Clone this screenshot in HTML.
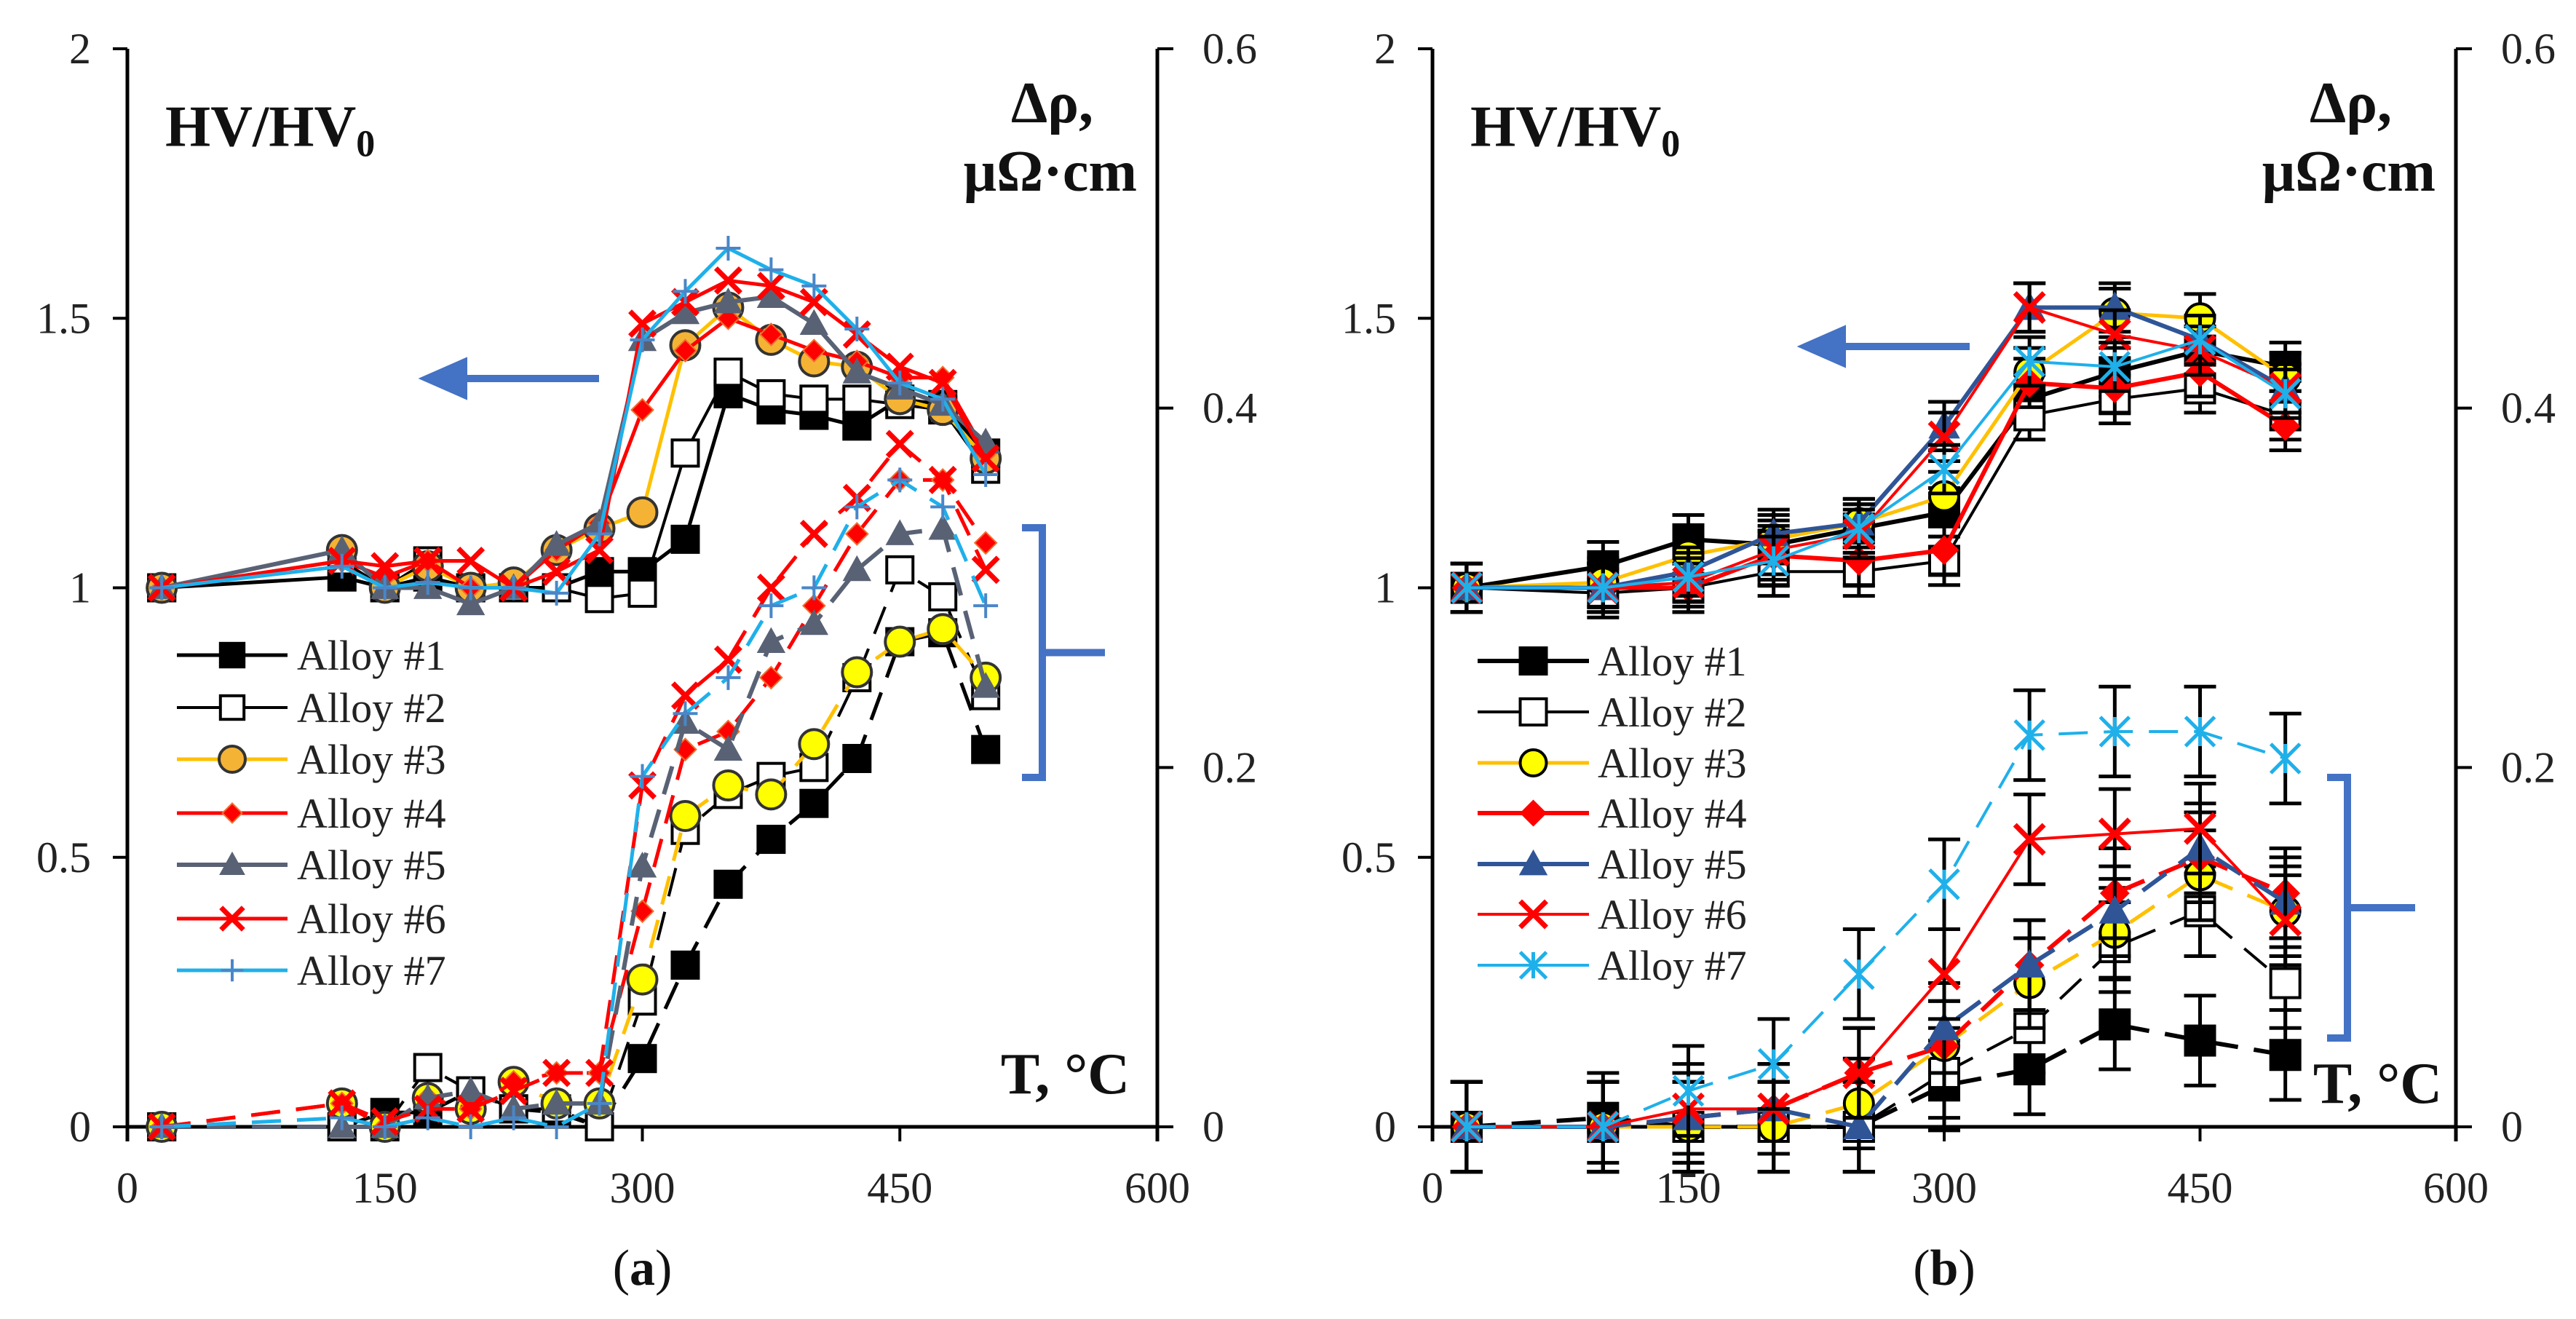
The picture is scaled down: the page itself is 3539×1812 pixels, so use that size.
<!DOCTYPE html>
<html><head><meta charset="utf-8"><style>
html,body{margin:0;padding:0;background:#fff;}
svg{display:block;font-family:"Liberation Serif",serif;}
</style></head><body>
<svg id="chart" width="3539" height="1812" viewBox="0 0 3539 1812" xmlns="http://www.w3.org/2000/svg">
<rect width="3539" height="1812" fill="#fff"/>
<g id="panelA"></g>
<g id="panelB"></g>
</svg>
<script>
// ---- data panel a ----
const xA = [20,125,150,175,200,225,250,275,300,325,350,375,400,425,450,475,500];
const hvA1 = [1.0,1.02,1.0,1.02,1.0,1.0,1.0,1.03,1.03,1.09,1.36,1.33,1.32,1.30,1.35,1.34,1.25];
const hvA2 = [1.0,1.05,1.0,1.05,1.0,1.0,1.0,0.98,0.99,1.25,1.40,1.36,1.35,1.35,1.34,1.33,1.22];
const hvA3 = [1.0,1.07,1.0,1.04,1.0,1.01,1.07,1.11,1.14,1.45,1.52,1.46,1.42,1.41,1.35,1.33,1.24];
const hvA4 = [1.0,1.05,1.02,1.05,1.0,1.0,1.07,1.12,1.33,1.44,1.50,1.47,1.44,1.42,1.39,1.39,1.25];
const hvA5 = [1.0,1.07,1.0,1.0,0.97,1.0,1.08,1.12,1.46,1.51,1.53,1.54,1.49,1.40,1.37,1.34,1.27];
const hvA6 = [1.0,1.05,1.04,1.05,1.05,1.0,1.03,1.07,1.49,1.53,1.57,1.56,1.53,1.47,1.41,1.38,1.24];
const hvA7 = [1.0,1.04,1.0,1.01,1.0,1.0,0.99,1.10,1.46,1.55,1.63,1.59,1.56,1.48,1.38,1.35,1.21];
const rA1 = [0,0,0.008,0.008,0.02,0.01,0.008,0,0.038,0.09,0.135,0.16,0.18,0.205,0.27,0.275,0.21];
const rA2 = [0,0,0,0.033,0.02,0.01,0.01,0,0.07,0.165,0.185,0.195,0.20,0.25,0.31,0.295,0.24];
const rA3 = [0,0.013,0,0.016,0.01,0.025,0.013,0.013,0.082,0.173,0.19,0.185,0.213,0.253,0.27,0.277,0.25];
const rA4 = [0,0.013,0,0.016,0.01,0.025,0.03,0.03,0.12,0.21,0.22,0.25,0.29,0.33,0.36,0.36,0.325];
const rA5 = [0,0,0,0.016,0.02,0.01,0.013,0.013,0.145,0.225,0.21,0.27,0.28,0.31,0.33,0.333,0.245];
const rA6 = [0,0.013,0.003,0.01,0.01,0.02,0.03,0.03,0.19,0.24,0.26,0.30,0.33,0.35,0.38,0.36,0.31];
const rA7 = [0,0.005,0,0.005,0,0.005,0,0.013,0.195,0.23,0.25,0.29,0.30,0.345,0.36,0.345,0.29];
// ---- data panel b ----
const xB = [20,100,150,200,250,300,350,400,450,500];
const hvB1 = [1.0,1.04,1.09,1.08,1.11,1.14,1.35,1.40,1.44,1.41];
const hvB2 = [1.0,0.99,1.0,1.03,1.03,1.05,1.32,1.35,1.37,1.32];
const hvB3 = [1.0,1.01,1.06,1.09,1.12,1.17,1.40,1.51,1.50,1.39];
const hvB4 = [1.0,1.0,1.0,1.06,1.05,1.07,1.38,1.37,1.40,1.30];
const hvB5 = [1.0,1.0,1.03,1.10,1.12,1.30,1.52,1.52,1.46,1.37];
const hvB6 = [1.0,1.0,1.01,1.07,1.10,1.28,1.52,1.47,1.44,1.37];
const hvB7 = [1.0,1.0,1.02,1.05,1.11,1.22,1.42,1.41,1.46,1.36];
const rB1 = [0,0.005,0,0,0,0.023,0.032,0.057,0.048,0.04];
const rB2 = [0,0,0,0,0,0.03,0.055,0.10,0.12,0.08];
const rB3 = [0,0,0,0,0.013,0.045,0.08,0.108,0.14,0.12];
const rB4 = [0,0,0.005,0.01,0.03,0.045,0.09,0.13,0.15,0.13];
const rB5 = [0,0,0.005,0.01,0,0.055,0.09,0.12,0.155,0.125];
const rB6 = [0,0,0.01,0.01,0.03,0.085,0.16,0.163,0.166,0.115];
const rB7 = [0,0,0.02,0.035,0.085,0.135,0.218,0.22,0.22,0.205];
const xTicks = [0,150,300,450,600];
const yTicksL = [0,0.5,1,1.5,2];
const yTicksLLabels = ["0","0.5","1","1.5","2"];
const yTicksR = [0,0.2,0.4,0.6];
const yTicksRLabels = ["0","0.2","0.4","0.6"];
const legendLabels = ["Alloy #1","Alloy #2","Alloy #3","Alloy #4","Alloy #5","Alloy #6","Alloy #7"];

const NS = "http://www.w3.org/2000/svg";
function mk(parent, tag, attrs, text){
  const e = document.createElementNS(NS, tag);
  for (const k in attrs) e.setAttribute(k, attrs[k]);
  if (text !== undefined) e.textContent = text;
  parent.appendChild(e);
  return e;
}

const Y0 = 1548, Y2 = 67;
function yL(v){ return Y0 - (Y0 - Y2) * v / 2; }
function yR(v){ return Y0 - (Y0 - Y2) * v / 0.6; }

function marker(g, type, cx, cy, s, stroke, fill){
  let m;
  const h = s/2;
  if (type === 'sq') m = mk(g,'rect',{x:cx-h,y:cy-h,width:s,height:s,fill:fill,stroke:stroke,'stroke-width':4});
  else if (type === 'circ') m = mk(g,'circle',{cx:cx,cy:cy,r:h,fill:fill,stroke:stroke,'stroke-width':4});
  else if (type === 'dia') m = mk(g,'path',{d:`M${cx} ${cy-h}L${cx+h} ${cy}L${cx} ${cy+h}L${cx-h} ${cy}Z`,fill:fill,stroke:stroke,'stroke-width':2});
  else if (type === 'tri') m = mk(g,'path',{d:`M${cx} ${cy-h}L${cx+h} ${cy+h*0.8}L${cx-h} ${cy+h*0.8}Z`,fill:fill,stroke:stroke,'stroke-width':2});
  else if (type === 'x') m = mk(g,'path',{d:`M${cx-h} ${cy-h}L${cx+h} ${cy+h}M${cx+h} ${cy-h}L${cx-h} ${cy+h}`,stroke:stroke,'stroke-width':7,fill:'none'});
  else if (type === 'plus') m = mk(g,'path',{d:`M${cx} ${cy-h}L${cx} ${cy+h}M${cx-h} ${cy}L${cx+h} ${cy}`,stroke:stroke,'stroke-width':4,fill:'none'});
  else if (type === 'star') m = mk(g,'path',{d:`M${cx-h} ${cy-h}L${cx+h} ${cy+h}M${cx+h} ${cy-h}L${cx-h} ${cy+h}M${cx} ${cy-h}L${cx} ${cy+h}`,stroke:stroke,'stroke-width':5,fill:'none'});
  
  
  return m;
}

function series(g, xs, vals, xf, yf, st, dashed, errs, name){
  const sg = mk(g,'g',{});
  
  
  if (errs){
    xs.forEach((x,i)=>{
      const cx = xf(x), y1 = yf(vals[i]-errs), y2 = yf(vals[i]+errs);
      const eb = mk(sg,'path',{d:`M${cx} ${y1}L${cx} ${y2}M${cx-22} ${y1}L${cx+22} ${y1}M${cx-22} ${y2}L${cx+22} ${y2}`,stroke:'#000','stroke-width':5,fill:'none'});
      
      
    });
  }
  const d = xs.map((x,i)=>(i?'L':'M')+xf(x)+' '+yf(vals[i])).join('');
  const p = mk(sg,'path',{d:d,fill:'none',stroke:st.line,'stroke-width':st.w,'stroke-dasharray':dashed?'40 22':'none','stroke-linejoin':'round'});
  
  
  xs.forEach((x,i)=>marker(sg, st.m, xf(x), yf(vals[i]), st.s, st.ms, dashed && st.fr ? st.fr : st.mf));
}

function axes(g, xl, xr, title){
  const xf = v => xl + (xr - xl) * v / 600;
  const ax = mk(g,'g',{});
  
  
  mk(ax,'line',{x1:xl,y1:Y0,x2:xr,y2:Y0,stroke:'#000','stroke-width':5});
  mk(ax,'line',{x1:xl,y1:Y2,x2:xl,y2:Y0+20,stroke:'#000','stroke-width':5});
  mk(ax,'line',{x1:xr,y1:Y2,x2:xr,y2:Y0+20,stroke:'#000','stroke-width':5});
  xTicks.forEach(t=>{
    mk(ax,'line',{x1:xf(t),y1:Y0,x2:xf(t),y2:Y0+20,stroke:'#000','stroke-width':4});
    const tx = mk(ax,'text',{x:xf(t),y:1652,'font-size':60,'text-anchor':'middle',fill:'#222'},String(t));
    
    
  });
  yTicksL.forEach((t,i)=>{
    mk(ax,'line',{x1:xl-20,y1:yL(t),x2:xl,y2:yL(t),stroke:'#000','stroke-width':4});
    const tx = mk(ax,'text',{x:xl-50,y:yL(t)+20,'font-size':60,'text-anchor':'end',fill:'#222'},yTicksLLabels[i]);
    
    
  });
  yTicksR.forEach((t,i)=>{
    mk(ax,'line',{x1:xr,y1:yR(t),x2:xr+22,y2:yR(t),stroke:'#000','stroke-width':4});
    const tx = mk(ax,'text',{x:xr+62,y:yR(t)+20,'font-size':60,'text-anchor':'start',fill:'#222'},yTicksRLabels[i]);
    
    
  });
  const hv = mk(g,'text',{x:xl+52,y:yL(1.82),'font-size':80,'font-weight':'bold',fill:'#111'});
  
  
  hv.innerHTML = 'HV/HV<tspan font-size="52" dy="14">0</tspan>';
  const dr = mk(g,'text',{x:xr-88,y:168,'font-size':80,'font-weight':'bold','text-anchor':'end',fill:'#111'},'Δρ,');
  
  
  const mu = mk(g,'text',{x:xr-28,y:262,'font-size':80,'font-weight':'bold','text-anchor':'end',fill:'#111'},'μΩ·cm');
  
  
  const pl = mk(g,'text',{x:(xl+xr)/2,y:1765,'font-size':70,'text-anchor':'middle',fill:'#111'});
  
  
  pl.innerHTML = '(<tspan font-weight="bold">'+title+'</tspan>)';
  return xf;
}

function legend(g, x1, x2, tx, ys, styles){
  const lg = mk(g,'g',{});
  
  
  styles.forEach((st,i)=>{
    const e = mk(lg,'g',{});
    
    
    mk(e,'line',{x1:x1,y1:ys[i],x2:x2,y2:ys[i],stroke:st.line,'stroke-width':st.w});
    marker(e, st.m, (x1+x2)/2, ys[i], st.s*0.9, st.ms, st.mf);
    mk(e,'text',{x:tx,y:ys[i]+20,'font-size':58,fill:'#222'},legendLabels[i]);
  });
}

function arrowLeft(g, xa, xb, y){
  const a = mk(g,'path',{d:`M${xb} ${y}L${xa+40} ${y}M${xa} ${y}L${xa+50} ${y-22}L${xa+50} ${y+22}Z`,stroke:'#4472C4','stroke-width':10,fill:'#4472C4'});
  
  
}
function bracket(g, x, yt, yb, xs){
  const b = mk(g,'path',{d:`M${x} ${yt}L${x+28} ${yt}L${x+28} ${yb}L${x} ${yb}M${x+28} ${(yt+yb)/2}L${xs} ${(yt+yb)/2}`,stroke:'#4472C4','stroke-width':10,fill:'none'});
  
  
}

// styles
const stA = [
  {line:'#000',w:5,m:'sq',s:36,ms:'#000',mf:'#000'},
  {line:'#000',w:4,m:'sq',s:36,ms:'#000',mf:'#fff'},
  {line:'#FFC000',w:5,m:'circ',s:40,ms:'#333',mf:'#F5B335',fr:'#FFFF00'},
  {line:'#FF0000',w:5,m:'dia',s:30,ms:'#F07030',mf:'#FF0000'},
  {line:'#596275',w:6,m:'tri',s:36,ms:'#596275',mf:'#596275'},
  {line:'#FF0000',w:5,m:'x',s:34,ms:'#FF0000',mf:'none'},
  {line:'#1FB0EA',w:5,m:'plus',s:34,ms:'#4A86C8',mf:'none'}
];
const stB = [
  {line:'#000',w:6,m:'sq',s:40,ms:'#000',mf:'#000'},
  {line:'#000',w:4,m:'sq',s:40,ms:'#000',mf:'#fff'},
  {line:'#FFC000',w:5,m:'circ',s:40,ms:'#000',mf:'#FFFF00'},
  {line:'#FF0000',w:6,m:'dia',s:38,ms:'#FF0000',mf:'#FF0000'},
  {line:'#2F5597',w:6,m:'tri',s:40,ms:'#2F5597',mf:'#2F5597'},
  {line:'#FF0000',w:4,m:'x',s:40,ms:'#FF0000',mf:'none'},
  {line:'#1FB0EA',w:4,m:'star',s:40,ms:'#1FB0EA',mf:'none'}
];

// Panel A
const gA = document.getElementById('panelA');
const xfA = axes(gA, 175, 1590, 'a');
const hvAll = [hvA1,hvA2,hvA3,hvA4,hvA5,hvA6,hvA7];
const rAll = [rA1,rA2,rA3,rA4,rA5,rA6,rA7];
rAll.forEach((r,i)=>series(gA, xA, r, xfA, yR, stA[i], true, 0, 'resistivity-alloy-'+(i+1)));
hvAll.forEach((h,i)=>series(gA, xA, h, xfA, yL, stA[i], false, 0, 'hardness-alloy-'+(i+1)));
legend(gA, 243, 395, 408, [900,972,1043,1117,1188,1262,1333], stA);
arrowLeft(gA, 587, 823, 520);
bracket(gA, 1404, 725, 1068, 1518);
const tA = mk(gA,'text',{x:1552,y:1502,'font-size':80,'font-weight':'bold','text-anchor':'end',fill:'#111'},'T, °C');



// Panel B
const gB = document.getElementById('panelB');
const xfB = axes(gB, 1968, 3374, 'b');
const hvBAll = [hvB1,hvB2,hvB3,hvB4,hvB5,hvB6,hvB7];
const rBAll = [rB1,rB2,rB3,rB4,rB5,rB6,rB7];
rBAll.forEach((r,i)=>series(gB, xB, r, xfB, yR, stB[i], i!==5, 0.025, 'resistivity-alloy-'+(i+1)));
hvBAll.forEach((h,i)=>series(gB, xB, h, xfB, yL, stB[i], false, 0.045, 'hardness-alloy-'+(i+1)));
legend(gB, 2030, 2183, 2195, [908,978,1048,1117,1187,1256,1326], stB);
arrowLeft(gB, 2481, 2706, 476);
bracket(gB, 3197, 1068, 1426, 3318);
const tB = mk(gB,'text',{x:3355,y:1515,'font-size':80,'font-weight':'bold','text-anchor':'end',fill:'#111'},'T, °C');


</script>
</body></html>
